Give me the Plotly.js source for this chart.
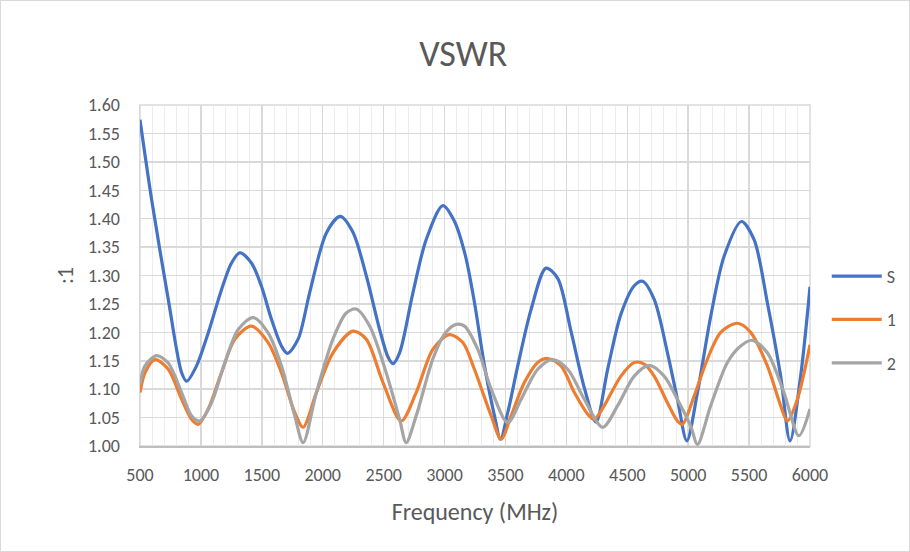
<!DOCTYPE html>
<html>
<head>
<meta charset="utf-8">
<script src="https://cdn.plot.ly/plotly-3.0.1.min.js"></script>
<style>
html,body{margin:0;padding:0;background:#fff;}
#wrap{position:relative;width:910px;height:552px;}
#frame{position:absolute;left:0;top:0;width:910px;height:552px;box-sizing:border-box;border:1px solid #d9d9d9;pointer-events:none;}
</style>
</head>
<body>
<div id="wrap"><div id="chart"></div><div id="frame"></div></div>
<script>
// Series S
const freqS = [500,596,732,842,883,964,1060,1169,1251,1320,1415,1497,1579,1661,1710,1798,1893,2030,2144,2248,2357,2467,2535,2576,2631,2740,2849,2986,3080,3170,3246,3328,3410,3459,3519,3601,3710,3833,3929,4038,4148,4243,4339,4448,4557,4625,4721,4830,4912,4989,5076,5185,5295,5437,5541,5650,5759,5836,5923,6000];
const vswrS = [1.574,1.433,1.258,1.129,1.114,1.141,1.199,1.275,1.322,1.340,1.322,1.281,1.223,1.176,1.163,1.188,1.270,1.375,1.404,1.376,1.300,1.205,1.157,1.145,1.164,1.269,1.363,1.423,1.396,1.336,1.252,1.141,1.053,1.012,1.059,1.141,1.240,1.313,1.295,1.202,1.102,1.042,1.135,1.232,1.282,1.290,1.258,1.164,1.082,1.009,1.094,1.228,1.334,1.395,1.363,1.252,1.123,1.009,1.123,1.280];
// Series 1
const freq1 = [500,541,623,732,842,923,978,1060,1169,1279,1415,1552,1661,1770,1839,1948,2084,2248,2357,2494,2644,2767,2904,3040,3150,3245,3383,3465,3546,3656,3765,3847,3956,4066,4175,4229,4311,4448,4557,4639,4721,4830,4912,4953,5049,5158,5267,5404,5513,5650,5759,5814,5896,6000];
const vswr1 = [1.094,1.129,1.152,1.135,1.082,1.047,1.038,1.065,1.129,1.188,1.211,1.182,1.129,1.059,1.033,1.094,1.164,1.202,1.188,1.112,1.044,1.094,1.170,1.196,1.182,1.135,1.053,1.012,1.053,1.112,1.147,1.154,1.141,1.094,1.056,1.047,1.071,1.123,1.147,1.144,1.123,1.076,1.044,1.038,1.088,1.153,1.200,1.216,1.200,1.141,1.071,1.044,1.082,1.178];
// Series 2
const freq2 = [500,541,637,732,842,923,992,1087,1197,1306,1429,1552,1661,1770,1839,1948,2084,2193,2275,2385,2521,2631,2685,2767,2904,3000,3095,3164,3273,3383,3519,3628,3765,3888,4011,4148,4298,4421,4557,4680,4803,4912,5021,5076,5185,5322,5431,5527,5650,5786,5909,6000];
const vswr2 = [1.108,1.141,1.159,1.146,1.094,1.053,1.044,1.076,1.147,1.205,1.226,1.199,1.141,1.053,1.006,1.094,1.188,1.234,1.241,1.211,1.129,1.047,1.006,1.053,1.153,1.197,1.214,1.211,1.170,1.100,1.041,1.082,1.135,1.152,1.135,1.082,1.033,1.071,1.123,1.142,1.123,1.082,1.035,1.003,1.071,1.147,1.176,1.186,1.164,1.094,1.018,1.065];

const seriesNames = ['S','1','2'];
const seriesColors = ['#4472C4','#ED7D31','#A5A5A5'];
const xs = [freqS, freq1, freq2];
const ys = [vswrS, vswr1, vswr2];

const FONT = 'Calibri, Carlito, Lato, "Liberation Sans", sans-serif';

const traces = xs.map((x,i)=>({
  x: x, y: ys[i], type:'scatter', mode:'lines', name: seriesNames[i],
  legendgroup: 'g'+i,
  line:{color:seriesColors[i], width:3.2, shape:'spline', smoothing:0.85},
  hoverinfo:'x+y'
}));

const layout = {
  width:910, height:552,
  margin:{l:140,r:100,t:105,b:106,autoexpand:false},
  paper_bgcolor:'#ffffff', plot_bgcolor:'#ffffff',
  font:{family:FONT, color:'#595959', size:18},
  title:{text:'VSWR', font:{family:FONT,size:36,color:'#595959'}, x:0.509, xref:'container', y:0.903, yref:'container', yanchor:'middle'},
  xaxis:{
    range:[500,6000], tick0:500, dtick:500, tickformat:'d',
    showgrid:true, gridcolor:'#d9d9d9', gridwidth:1.5,
    minor:{dtick:100, showgrid:true, gridcolor:'#ececec', gridwidth:1},
    showline:true, linecolor:'#bfbfbf', linewidth:1.5, mirror:false,
    ticks:'', zeroline:false, ticklabelstandoff:12,
    tickfont:{family:FONT,size:18,color:'#595959'},
    title:{text:'Frequency (MHz)', font:{family:FONT,size:24,color:'#595959'}, standoff:18}
  },
  yaxis:{
    range:[1.0,1.6], tick0:1.0, dtick:0.05, tickformat:'.2f',
    showgrid:true, gridcolor:'#d9d9d9', gridwidth:1.5,
    showline:true, linecolor:'#d9d9d9', linewidth:1.5,
    ticks:'', zeroline:false, ticklabelstandoff:15,
    tickfont:{family:FONT,size:18,color:'#595959'},
    title:{text:':1', font:{family:FONT,size:22,color:'#595959'}, standoff:8}
  },
  shapes:[{type:'rect', xref:'paper', yref:'paper', x0:0, x1:1, y0:0, y1:1, line:{color:'#d9d9d9', width:1.5}, fillcolor:'rgba(0,0,0,0)', layer:'below'}],
  showlegend:true,
  legend:{x:1.025, xanchor:'left', y:0.37, yanchor:'middle', font:{family:FONT,size:18,color:'#595959'}, itemwidth:50, tracegroupgap:17, bgcolor:'rgba(0,0,0,0)'}
};

Plotly.newPlot('chart', traces, layout, {displayModeBar:false, staticPlot:true});
</script>
</body>
</html>
